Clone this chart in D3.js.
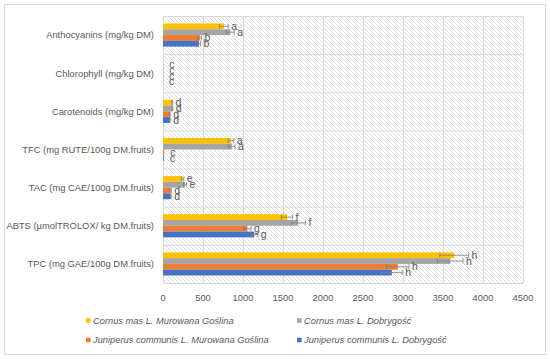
<!DOCTYPE html>
<html>
<head>
<meta charset="utf-8">
<script src="https://cdn.jsdelivr.net/npm/d3@7"></script>
<style>
  body { margin: 0; background: #fff; }
  text { font-family: "Liberation Sans", Arial, sans-serif; fill: #595959; }
</style>
</head>
<body>
<div id="viz"></div>
<script>
// chart data
var categories = ["Anthocyanins (mg/kg DM)", "Chlorophyll (mg/kg DM)", "Carotenoids (mg/kg DM)",
  "TFC (mg RUTE/100g DM.fruits)", "TAC (mg CAE/100g DM.fruits)",
  "ABTS (\u00b5molTROLOX/ kg DM.fruits)", "TPC (mg GAE/100g DM.fruits)"];
var seriesNames = ["Cornus mas L. Murowana Go\u015blina", "Cornus mas L. Dobrygo\u015b\u0107",
  "Juniperus communis L. Murowana Go\u015blina", "Juniperus communis L. Dobrygo\u015b\u0107"];
var cornusMG = [760, 2, 115, 850, 245, 1550, 3640];
var cornusD = [840, 3, 118, 860, 275, 1690, 3590];
var juniperusMG = [460, 1, 85, 15, 95, 1055, 2935];
var juniperusD = [450, 1, 85, 10, 95, 1140, 2860];
var errCornusMG = [55, 0, 5, 35, 15, 70, 180];
var errCornusD = [50, 0, 5, 40, 20, 90, 160];
var errJuniperusMG = [20, 0, 5, 0, 8, 45, 140];
var errJuniperusD = [20, 0, 5, 0, 8, 45, 130];
var lettersCornusMG = ["a", "c", "d", "a", "e", "f", "h"];
var lettersCornusD = ["a", "c", "d", "a", "e", "f", "h"];
var lettersJuniperusMG = ["b", "c", "d", "c", "d", "g", "h"];
var lettersJuniperusD = ["b", "c", "d", "c", "d", "g", "h"];
var xTicks = [0, 500, 1000, 1500, 2000, 2500, 3000, 3500, 4000, 4500];
var colors = ["#FFC000", "#A5A5A5", "#ED7D31", "#4472C4"];

var values = [cornusMG, cornusD, juniperusMG, juniperusD];
var errs = [errCornusMG, errCornusD, errJuniperusMG, errJuniperusD];
var letters = [lettersCornusMG, lettersCornusD, lettersJuniperusMG, lettersJuniperusD];

var width = 550, height = 359;
var plotL = 163, plotR = 523, plotT = 16, plotB = 283;

var svg = d3.select("#viz").append("svg")
  .attr("width", width)
  .attr("height", height);

// hatch for the plot area
var defs = svg.append("defs");
var pat = defs.append("pattern")
  .attr("id", "hatch")
  .attr("patternUnits", "userSpaceOnUse")
  .attr("width", 4).attr("height", 4);
pat.append("rect").attr("width", 4).attr("height", 4).attr("fill", "#fff");
pat.append("path")
  .attr("d", "M-1,-1 L5,5 M3,-1 L5,1 M-1,3 L1,5")
  .attr("stroke", "#dcdcdc").attr("stroke-width", 0.9);

// outer frame
svg.append("rect")
  .attr("x", 4.5).attr("y", 4.5)
  .attr("width", 541).attr("height", 350)
  .attr("fill", "#fff").attr("stroke", "#d9d9d9");

var x = d3.scaleLinear().domain([0, 4500]).range([plotL, plotR]);
var y0 = d3.scaleBand().domain(categories).range([plotT, plotB]);
var y1 = d3.scaleBand().domain(d3.range(4)).range([0, y0.bandwidth()]).paddingOuter(1.3);

svg.append("rect")
  .attr("x", plotL).attr("y", plotT)
  .attr("width", plotR - plotL).attr("height", plotB - plotT)
  .attr("fill", "url(#hatch)");

// gridlines
svg.append("g").selectAll("line").data(xTicks).enter().append("line")
  .attr("x1", function (d) { return x(d) + 0.5; })
  .attr("x2", function (d) { return x(d) + 0.5; })
  .attr("y1", plotT).attr("y2", plotB)
  .attr("stroke", "#d9d9d9");
svg.append("g").selectAll("line").data(categories.concat(["end"])).enter().append("line")
  .attr("x1", plotL).attr("x2", plotR)
  .attr("y1", function (d, i) { return (i < categories.length ? y0(d) : plotB) + 0.5; })
  .attr("y2", function (d, i) { return (i < categories.length ? y0(d) : plotB) + 0.5; })
  .attr("stroke", "#d9d9d9");

// bars, error bars, letters
var rows = [];
categories.forEach(function (c, ci) {
  for (var s = 0; s < 4; s++) {
    rows.push({ cat: c, s: s, v: values[s][ci], e: errs[s][ci], l: letters[s][ci] });
  }
});

svg.append("g").selectAll("rect").data(rows).enter().append("rect")
  .attr("x", x(0))
  .attr("y", function (d) { return y0(d.cat) + y1(d.s); })
  .attr("width", function (d) { return x(d.v) - x(0); })
  .attr("height", y1.bandwidth())
  .attr("fill", function (d) { return colors[d.s]; });

var eb = svg.append("g").attr("stroke", "#7f7f7f").attr("stroke-width", 0.8).attr("fill", "none");
rows.filter(function (d) { return d.e > 0; }).forEach(function (d) {
  var cy = y0(d.cat) + y1(d.s) + y1.bandwidth() / 2;
  var xa = x(d.v - d.e), xb = x(d.v + d.e);
  eb.append("path")
    .attr("d", "M" + xa + "," + cy + "H" + xb +
      "M" + xa + "," + (cy - 2.5) + "V" + (cy + 2.5) +
      "M" + xb + "," + (cy - 2.5) + "V" + (cy + 2.5));
});

svg.append("g").selectAll("text").data(rows).enter().append("text")
  .attr("x", function (d) { return x(d.v + d.e) + (d.e > 0 ? 3 : 6); })
  .attr("y", function (d) { return y0(d.cat) + y1(d.s) + y1.bandwidth() / 2 + 3.5; })
  .style("font-size", "10.5px")
  .text(function (d) { return d.l; });

// category labels
svg.append("g").selectAll("text").data(categories).enter().append("text")
  .attr("x", 154)
  .attr("y", function (d) { return y0(d) + y0.bandwidth() / 2; })
  .attr("dy", "0.35em")
  .attr("text-anchor", "end")
  .style("font-size", "9.4px")
  .text(function (d) { return d; });

// x tick labels
svg.append("g").selectAll("text").data(xTicks).enter().append("text")
  .attr("x", function (d) { return x(d); })
  .attr("y", 298)
  .attr("dy", "0.35em")
  .attr("text-anchor", "middle")
  .style("font-size", "9.4px")
  .text(function (d) { return d; });

// legend
var legendPos = [[86, 320.5], [297, 320.5], [86, 340], [297, 340]];
var lg = svg.append("g").selectAll("g").data(seriesNames).enter().append("g")
  .attr("transform", function (d, i) { return "translate(" + legendPos[i][0] + "," + legendPos[i][1] + ")"; });
lg.append("rect")
  .attr("x", 0).attr("y", -2.3)
  .attr("width", 4.6).attr("height", 4.6)
  .attr("fill", function (d, i) { return colors[i]; });
lg.append("text")
  .attr("x", 7).attr("dy", "0.35em")
  .style("font-size", "9.3px")
  .style("font-style", "italic")
  .text(function (d) { return d; });
</script>
</body>
</html>
